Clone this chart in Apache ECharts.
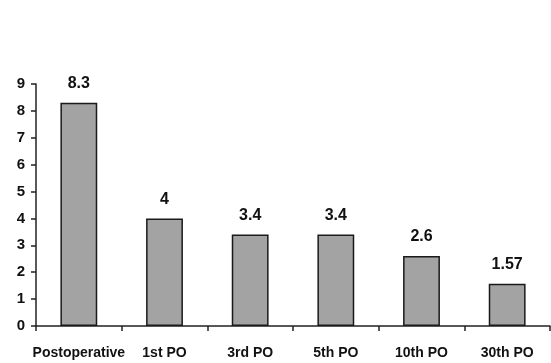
<!DOCTYPE html>
<html>
<head>
<meta charset="utf-8">
<style>
  html, body { margin: 0; padding: 0; background: #fff; }
  #main { width: 551px; height: 363px; }
</style>
<script src="https://cdn.jsdelivr.net/npm/echarts@6/dist/echarts.min.js"></script>
</head>
<body>
<div id="main"></div>
<script>
const categories = ['Postoperative', '1st PO', '3rd PO', '5th PO', '10th PO', '30th PO']
const values = [8.3, 4, 3.4, 3.4, 2.6, 1.57]
const yTicks = [0, 1, 2, 3, 4, 5, 6, 7, 8, 9]

const chart = echarts.init(document.getElementById('main'))
chart.setOption({
    animation: false,
    grid: { left: 36, right: 1, top: 84, bottom: 37 },
    xAxis: {
        type: 'category',
        data: categories,
        axisLine: { lineStyle: { color: '#222', width: 1.5 } },
        axisTick: { show: true, interval: 0, length: 5, lineStyle: { color: '#222', width: 1.5 } },
        axisLabel: {
            interval: 0,
            margin: 20,
            fontFamily: 'Liberation Sans',
            fontWeight: 'bold',
            fontSize: 14,
            color: '#111'
        }
    },
    yAxis: {
        type: 'value',
        min: yTicks[0],
        max: yTicks[yTicks.length - 1],
        interval: 1,
        axisLine: { show: true, lineStyle: { color: '#222', width: 1.5 } },
        axisTick: { show: true, length: 5, lineStyle: { color: '#222', width: 1.5 } },
        splitLine: { show: false },
        axisLabel: {
            margin: 11,
            fontFamily: 'Liberation Sans',
            fontWeight: 'bold',
            fontSize: 15,
            color: '#111'
        }
    },
    series: [{
        type: 'bar',
        data: values,
        barWidth: '43%',
        itemStyle: { color: '#a3a3a3', borderColor: '#1a1a1a', borderWidth: 1.5 },
        label: {
            show: true,
            position: 'top',
            distance: 11,
            fontFamily: 'Liberation Sans',
            fontWeight: 'bold',
            fontSize: 16,
            color: '#111'
        }
    }]
})
</script>
</body>
</html>
